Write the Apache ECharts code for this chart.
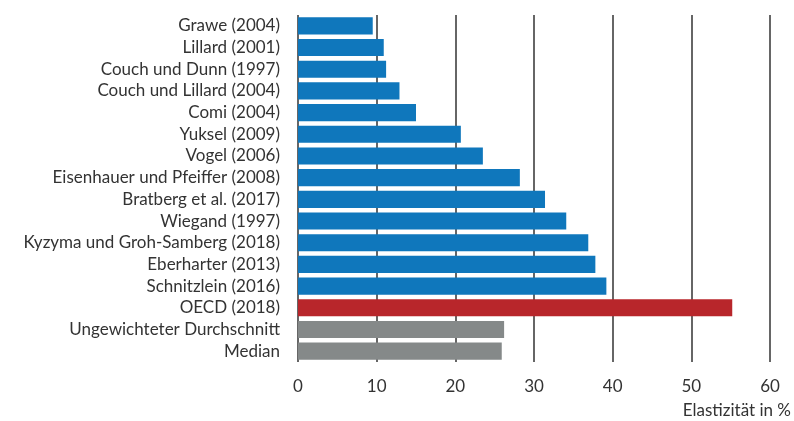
<!DOCTYPE html>
<html>
<head>
<meta charset="utf-8">
<script src="https://cdn.jsdelivr.net/npm/echarts@6/dist/echarts.min.js"></script>
<style>
  html, body { margin: 0; padding: 0; background: #fff; }
  #chart { width: 794px; height: 421px; }
</style>
</head>
<body>
<div id="chart"></div>
<script>
// Studien (von oben nach unten)
var studies = [
  'Grawe (2004)', 'Lillard (2001)', 'Couch und Dunn (1997)', 'Couch und Lillard (2004)',
  'Comi (2004)', 'Yuksel (2009)', 'Vogel (2006)', 'Eisenhauer und Pfeiffer (2008)',
  'Bratberg et al. (2017)', 'Wiegand (1997)', 'Kyzyma und Groh-Samberg (2018)',
  'Eberharter (2013)', 'Schnitzlein (2016)', 'OECD (2018)',
  'Ungewichteter Durchschnitt', 'Median'
];
// Elastizität in %
var elasticity = [9.5, 10.9, 11.2, 12.9, 15.0, 20.7, 23.5, 28.2, 31.4, 34.1, 36.9, 37.8, 39.2, 55.2, 26.2, 25.9];
var xTicks = [0, 10, 20, 30, 40, 50, 60];

var BLUE = '#0f77bc', RED = '#b8262b', GREY = '#858989';
var FONT = 'Lato, "Noto Sans", sans-serif';

function barColor(name) {
  if (name === 'OECD (2018)') return RED;
  if (name === 'Ungewichteter Durchschnitt' || name === 'Median') return GREY;
  return BLUE;
}

var chart = echarts.init(document.getElementById('chart'));
chart.setOption({
  animation: false,
  textStyle: { fontFamily: FONT },
  grid: { left: 298, right: 24, top: 15, bottom: 59 },
  xAxis: {
    type: 'value',
    min: xTicks[0],
    max: xTicks[xTicks.length - 1],
    interval: 10,
    axisLine: { show: false },
    axisTick: { show: false },
    splitLine: { show: true, lineStyle: { color: '#333', width: 1.5 } },
    axisLabel: { color: '#333', fontSize: 17, margin: 16, fontFamily: FONT }
  },
  yAxis: {
    type: 'category',
    inverse: true,
    data: studies,
    axisLine: { show: false },
    axisTick: { show: false },
    axisLabel: { color: '#333', fontSize: 17, margin: 18, interval: 0, fontFamily: FONT }
  },
  graphic: [{
    type: 'text',
    right: 3,
    top: 402,
    style: { text: 'Elastizität in %', fill: '#333', font: '17px ' + FONT }
  }],
  series: [{
    type: 'bar',
    barWidth: '79%',
    data: elasticity.map(function (v, i) {
      return { value: v, itemStyle: { color: barColor(studies[i]) } };
    })
  }]
});
</script>
</body>
</html>
